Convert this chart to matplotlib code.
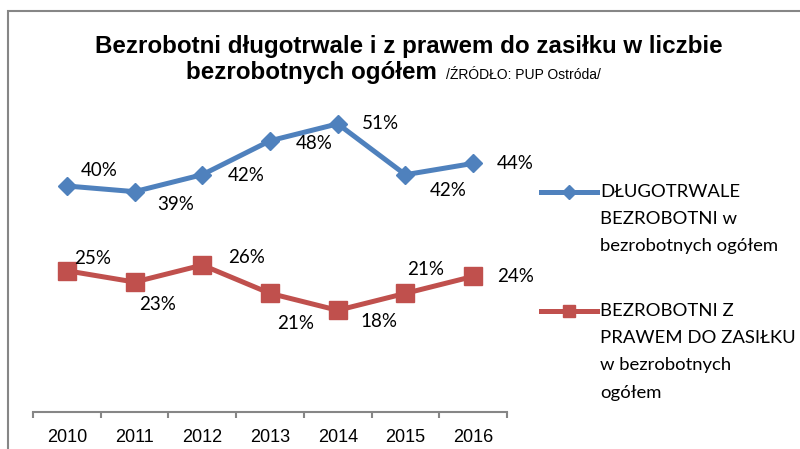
import matplotlib
matplotlib.use('Agg')
import matplotlib.pyplot as plt
from matplotlib.lines import Line2D
from matplotlib.patches import Rectangle

years = ['2010', '2011', '2012', '2013', '2014', '2015', '2016']
dlugotrwale = [40, 39, 42, 48, 51, 42, 44]
z_prawem = [25, 23, 26, 21, 18, 21, 24]

label_blue = 'DŁUGOTRWALE\nBEZROBOTNI w\nbezrobotnych ogółem'
label_red = 'BEZROBOTNI Z\nPRAWEM DO ZASIŁKU\nw bezrobotnych\nogółem'

# label offsets in pixels (moved by hand in the original)
off_blue = [(32, 15), (41, -13), (44, -1), (44, -3), (43, 0), (43, -16), (42, 0)]
off_red = [(26, 12), (23, -22), (44, 8), (26, -30), (41, -11), (20, 24), (42, 0)]

blue = '#4F81BD'
red = '#C0504D'
gray = '#868686'

W, H = 800, 449
fig = plt.figure(figsize=(8, 4.49), dpi=100)

# chart frame (cut off on right and bottom)
fig.add_artist(Rectangle((8 / W, -0.1), 1.2, 1 - 11 / H + 0.1, transform=fig.transFigure,
                         fill=False, edgecolor=gray, linewidth=1.5))

ax = fig.add_axes([33 / W, (H - 412) / H, 474 / W, 339 / H])
x = list(range(len(years)))

ax.plot(x, dlugotrwale, color=blue, linewidth=3.6, marker='D', markersize=9.5,
        clip_on=False)
ax.plot(x, z_prawem, color=red, linewidth=3.6, marker='s', markersize=13.5,
        clip_on=False)

for xi, v, o in zip(x, dlugotrwale, off_blue):
    ax.annotate(f'{v}%', (xi, v), xytext=o, textcoords='offset pixels',
                ha='center', va='center', fontsize=13.5, family='Lato')
for xi, v, o in zip(x, z_prawem, off_red):
    ax.annotate(f'{v}%', (xi, v), xytext=o, textcoords='offset pixels',
                ha='center', va='center', fontsize=13.5, family='Lato')

ax.set_xlim(-0.5, len(years) - 0.5)
ax.set_ylim(0, 60)
for s in ['top', 'right', 'left']:
    ax.spines[s].set_visible(False)
ax.spines['bottom'].set_color(gray)
ax.spines['bottom'].set_linewidth(1.5)
ax.set_yticks([])
ax.set_xticks(x)
ax.set_xticklabels(years, family='Liberation Sans', fontsize=13)
ax.set_xticks([i - 0.5 for i in range(len(years) + 1)], minor=True)
ax.tick_params(axis='x', which='major', length=0, pad=12)
ax.tick_params(axis='x', which='minor', length=4, width=1.5, color=gray, direction='out')
ax.patch.set_alpha(0)

# title
fig.text(409 / W, 1 - 46 / H, 'Bezrobotni długotrwale i z prawem do zasiłku w liczbie',
         ha='center', va='center', fontsize=17.4, fontweight='bold', family='Liberation Sans')
fig.text(437 / W, 1 - 73 / H, 'bezrobotnych ogółem', ha='right', va='center',
         fontsize=17.4, fontweight='bold', family='Liberation Sans')
fig.text(446 / W, 1 - 75 / H, '/ŹRÓDŁO: PUP Ostróda/', ha='left', va='center',
         fontsize=10, family='Liberation Sans')

# legend drawn by hand
for y, col, mk, ms, lab in [(192, blue, 'D', 7, label_blue), (311, red, 's', 9, label_red)]:
    yy = 1 - y / H
    fig.add_artist(Line2D([541 / W, 597 / W], [yy, yy], transform=fig.transFigure,
                          color=col, linewidth=3.6))
    fig.add_artist(Line2D([569 / W], [yy], transform=fig.transFigure, color=col,
                          marker=mk, markersize=ms))
    fig.text(600 / W, 1 - (y - 8) / H, lab, ha='left', va='top', fontsize=13.3,
             family='Lato', linespacing=1.86)

plt.savefig('out.png', dpi=100)
